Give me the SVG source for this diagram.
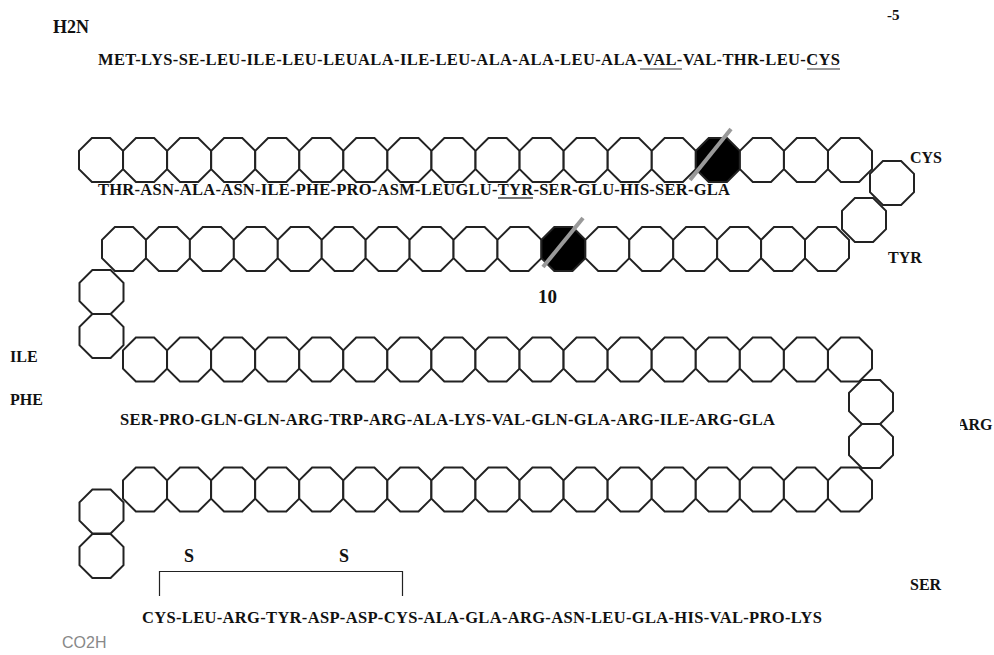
<svg xmlns="http://www.w3.org/2000/svg" xmlns:xlink="http://www.w3.org/1999/xlink" width="994" height="655" viewBox="0 0 994 655">
<style>
.oct{fill:#fff;stroke:#222;stroke-width:2;stroke-linejoin:miter}
.blk{fill:#000;stroke:#222;stroke-width:2}
.slash{stroke:#999;stroke-width:4;fill:none}
.t{font-family:"Liberation Serif","Times New Roman",serif;font-weight:bold;fill:#111}
.seq{font-size:16.5px}
.ul{stroke:#777;stroke-width:1.4}
</style>
<defs>
<polygon id="o" points="-9.11,-22 9.11,-22 22,-9.11 22,9.11 9.11,22 -9.11,22 -22,9.11 -22,-9.11"/>
<clipPath id="argclip"><rect x="960" y="400" width="40" height="50"/></clipPath>
</defs>
<rect width="994" height="655" fill="#fff"/>

<g id="row1">
<use href="#o" class="oct" x="101" y="160"/><use href="#o" class="oct" x="145.06" y="160"/><use href="#o" class="oct" x="189.12" y="160"/><use href="#o" class="oct" x="233.18" y="160"/><use href="#o" class="oct" x="277.24" y="160"/><use href="#o" class="oct" x="321.3" y="160"/><use href="#o" class="oct" x="365.36" y="160"/><use href="#o" class="oct" x="409.42" y="160"/><use href="#o" class="oct" x="453.48" y="160"/><use href="#o" class="oct" x="497.54" y="160"/><use href="#o" class="oct" x="541.6" y="160"/><use href="#o" class="oct" x="585.66" y="160"/><use href="#o" class="oct" x="629.72" y="160"/><use href="#o" class="oct" x="673.78" y="160"/><use id="r1-black" href="#o" class="blk" x="717.84" y="160"/><use href="#o" class="oct" x="761.9" y="160"/><use href="#o" class="oct" x="805.96" y="160"/><use href="#o" class="oct" x="850" y="160"/>
</g>
<g id="turn1">
<use href="#o" class="oct" x="892" y="183"/><use href="#o" class="oct" x="864" y="220"/>
</g>
<g id="row2">
<use href="#o" class="oct" x="124" y="249"/><use href="#o" class="oct" x="167.94" y="249"/><use href="#o" class="oct" x="211.88" y="249"/><use href="#o" class="oct" x="255.82" y="249"/><use href="#o" class="oct" x="299.76" y="249"/><use href="#o" class="oct" x="343.7" y="249"/><use href="#o" class="oct" x="387.64" y="249"/><use href="#o" class="oct" x="431.58" y="249"/><use href="#o" class="oct" x="475.52" y="249"/><use href="#o" class="oct" x="519.46" y="249"/><use id="r2-black" href="#o" class="blk" x="563.4" y="249"/><use href="#o" class="oct" x="607.34" y="249"/><use href="#o" class="oct" x="651.28" y="249"/><use href="#o" class="oct" x="695.22" y="249"/><use href="#o" class="oct" x="739.16" y="249"/><use href="#o" class="oct" x="783.1" y="249"/><use href="#o" class="oct" x="827" y="249"/>
</g>
<g id="turn2">
<use href="#o" class="oct" x="101.5" y="292"/><use href="#o" class="oct" x="101.5" y="336"/>
</g>
<g id="row3">
<use href="#o" class="oct" x="145" y="359.5"/><use href="#o" class="oct" x="189.06" y="359.5"/><use href="#o" class="oct" x="233.12" y="359.5"/><use href="#o" class="oct" x="277.18" y="359.5"/><use href="#o" class="oct" x="321.24" y="359.5"/><use href="#o" class="oct" x="365.3" y="359.5"/><use href="#o" class="oct" x="409.36" y="359.5"/><use href="#o" class="oct" x="453.42" y="359.5"/><use href="#o" class="oct" x="497.48" y="359.5"/><use href="#o" class="oct" x="541.54" y="359.5"/><use href="#o" class="oct" x="585.6" y="359.5"/><use href="#o" class="oct" x="629.66" y="359.5"/><use href="#o" class="oct" x="673.72" y="359.5"/><use href="#o" class="oct" x="717.78" y="359.5"/><use href="#o" class="oct" x="761.84" y="359.5"/><use href="#o" class="oct" x="805.9" y="359.5"/><use href="#o" class="oct" x="850" y="359.5"/>
</g>
<g id="turn3">
<use href="#o" class="oct" x="871" y="402"/><use href="#o" class="oct" x="871" y="446"/>
</g>
<g id="row4">
<use href="#o" class="oct" x="145" y="489.5"/><use href="#o" class="oct" x="189.06" y="489.5"/><use href="#o" class="oct" x="233.12" y="489.5"/><use href="#o" class="oct" x="277.18" y="489.5"/><use href="#o" class="oct" x="321.24" y="489.5"/><use href="#o" class="oct" x="365.3" y="489.5"/><use href="#o" class="oct" x="409.36" y="489.5"/><use href="#o" class="oct" x="453.42" y="489.5"/><use href="#o" class="oct" x="497.48" y="489.5"/><use href="#o" class="oct" x="541.54" y="489.5"/><use href="#o" class="oct" x="585.6" y="489.5"/><use href="#o" class="oct" x="629.66" y="489.5"/><use href="#o" class="oct" x="673.72" y="489.5"/><use href="#o" class="oct" x="717.78" y="489.5"/><use href="#o" class="oct" x="761.84" y="489.5"/><use href="#o" class="oct" x="805.9" y="489.5"/><use href="#o" class="oct" x="850" y="489.5"/>
</g>
<g id="turn4">
<use href="#o" class="oct" x="101.5" y="511.5"/><use href="#o" class="oct" x="101.5" y="556"/>
</g>

<g id="connectors">
<line class="slash" x1="690" y1="180" x2="731" y2="129"/>
<line class="slash" x1="543" y1="267" x2="583" y2="218"/>
<polyline points="159.5,596 159.5,571.5 402.5,571.5 402.5,596" fill="none" stroke="#222" stroke-width="1.2"/>
</g>

<g id="labels">
<text class="t" x="53" y="33" font-size="18">H2N</text>
<text class="t" x="887" y="20" font-size="15">-5</text>
<text class="t seq" x="98" y="65" textLength="742">MET-LYS-SE-LEU-ILE-LEU-LEUALA-ILE-LEU-ALA-ALA-LEU-ALA-VAL-VAL-THR-LEU-CYS</text>
<line class="ul" x1="640" y1="69" x2="682" y2="69"/>
<line class="ul" x1="807" y1="69" x2="840" y2="69"/>
<text class="t" x="910" y="163" font-size="16">CYS</text>
<text class="t seq" x="98" y="195" textLength="632">THR-ASN-ALA-ASN-ILE-PHE-PRO-ASM-LEUGLU-TYR-SER-GLU-HIS-SER-GLA</text>
<line x1="498" y1="198" x2="533" y2="198" stroke="#444" stroke-width="1.3"/>
<text class="t" x="888" y="263" font-size="16">TYR</text>
<text class="t" x="538" y="303" font-size="19">10</text>
<text class="t" x="10" y="362" font-size="16">ILE</text>
<text class="t" x="10" y="405" font-size="16">PHE</text>
<text class="t seq" x="120" y="425" textLength="655">SER-PRO-GLN-GLN-ARG-TRP-ARG-ALA-LYS-VAL-GLN-GLA-ARG-ILE-ARG-GLA</text>
<text class="t" x="957" y="430" font-size="16" clip-path="url(#argclip)">ARG</text>
<text class="t" x="184" y="562" font-size="18">S</text>
<text class="t" x="339" y="562" font-size="18">S</text>
<text class="t" x="910" y="590" font-size="16">SER</text>
<text class="t seq" x="142" y="623" textLength="680">CYS-LEU-ARG-TYR-ASP-ASP-CYS-ALA-GLA-ARG-ASN-LEU-GLA-HIS-VAL-PRO-LYS</text>
<text x="62" y="648" font-family="Liberation Sans, Arial, sans-serif" font-size="16" fill="#888">CO2H</text>
</g>
</svg>
